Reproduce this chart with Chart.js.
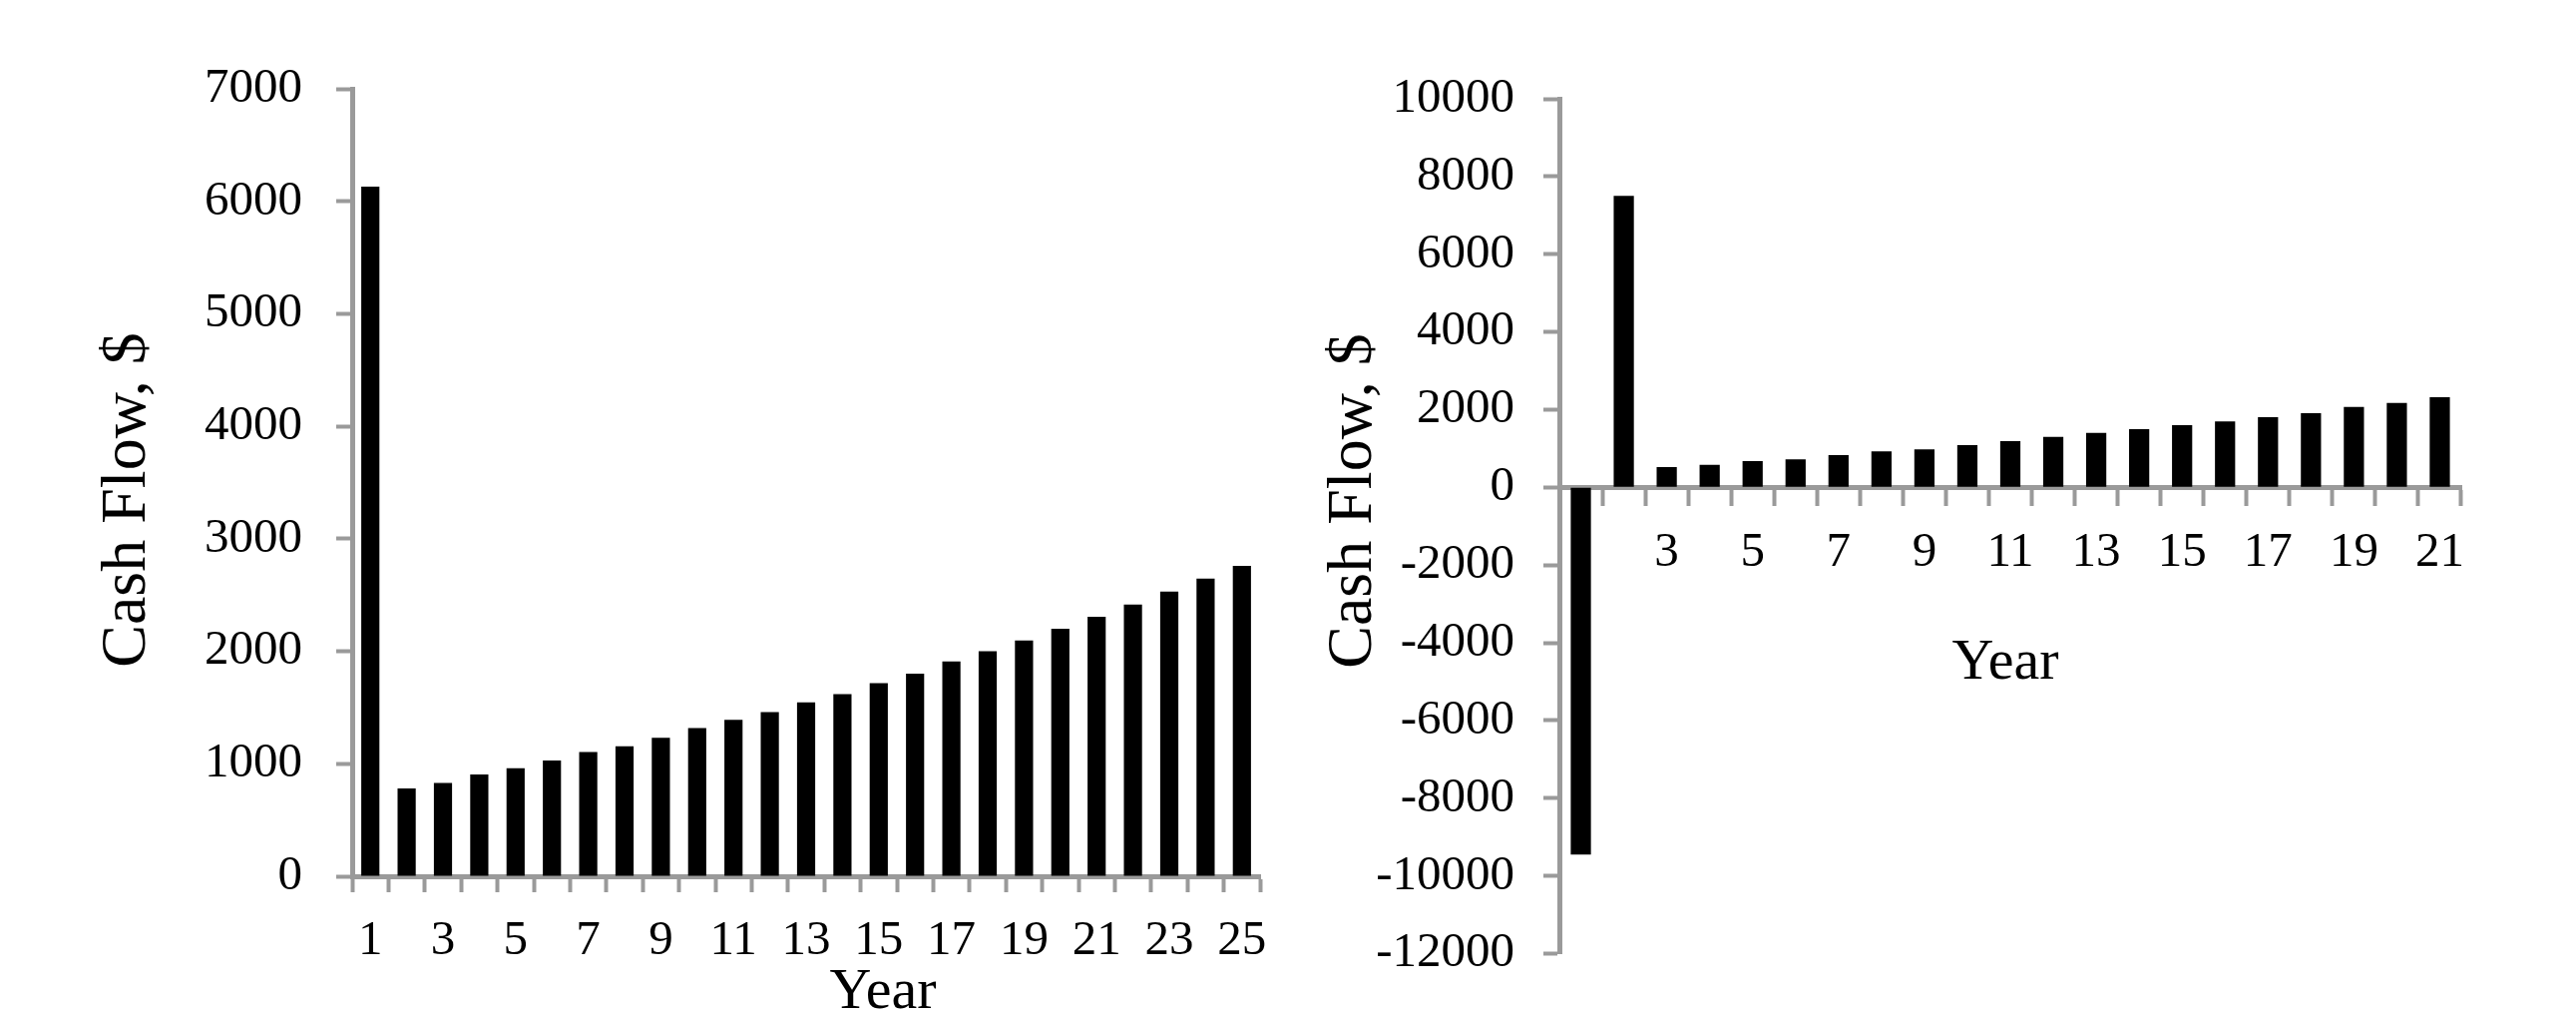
<!DOCTYPE html>
<html>
<head>
<meta charset="utf-8">
<script src="https://cdn.jsdelivr.net/npm/chart.js"></script>
<style>
    body { margin: 0; background: #fff; overflow: hidden; }
    #leftChart { position: absolute; left: 0; top: 0; }
    #rightChart { position: absolute; left: 1300px; top: 0; }
</style>
</head>
<body>
<canvas id="leftChart" width="1300" height="1014"></canvas>
<canvas id="rightChart" width="1282" height="1014"></canvas>
<script>
// left chart: 25 years
const yearsA = [1, 2, 3, 4, 5, 6, 7, 8, 9, 10, 11, 12, 13, 14, 15, 16, 17, 18, 19, 20, 21, 22, 23, 24, 25];
const cashFlowA = [6130, 780, 830, 905, 960, 1030, 1105, 1156, 1230, 1317, 1390, 1460, 1545, 1620, 1717,
    1800, 1910, 2000, 2095, 2200, 2307, 2415, 2530, 2645, 2760];

// right chart: 21 years
const yearsB = [1, 2, 3, 4, 5, 6, 7, 8, 9, 10, 11, 12, 13, 14, 15, 16, 17, 18, 19, 20, 21];
const cashFlowB = [-9450, 7500, 520, 580, 680, 720, 830, 930, 980, 1090, 1190, 1300, 1400, 1500, 1600,
    1700, 1810, 1910, 2070, 2170, 2320];

const xTitle = 'Year';
const yTitle = 'Cash Flow, $';

const axisGray = '#9a9a9a';
const serif = "'Liberation Serif', 'DejaVu Serif', serif";

Chart.defaults.font.family = serif;
Chart.defaults.color = '#000';

// axis titles drawn by hand so they can sit where Excel put them
const axisTitles = {
    id: 'axisTitles',
    afterDraw(chart, args, opts) {
        const ctx = chart.ctx;
        opts.items.forEach(t => {
            ctx.save();
            ctx.font = t.size + 'px ' + serif;
            ctx.fillStyle = '#000';
            ctx.textAlign = 'center';
            ctx.textBaseline = 'alphabetic';
            ctx.translate(t.x, t.y);
            if (t.rotate) ctx.rotate(-Math.PI / 2);
            ctx.fillText(t.text, 0, 0);
            ctx.restore();
        });
    }
};

function makeConfig(labels, values, opts) {
    return {
        type: 'bar',
        data: {
            labels: labels,
            datasets: [{
                data: values,
                backgroundColor: '#000',
                borderWidth: 0,
                barPercentage: opts.barPct,
                categoryPercentage: 1
            }]
        },
        options: {
            responsive: false,
            animation: false,
            layout: { padding: opts.padding },
            scales: {
                x: {
                    position: opts.xPosition,
                    grid: {
                        offset: true,
                        drawOnChartArea: false,
                        drawTicks: true,
                        tickLength: 16,
                        tickWidth: 4,
                        tickColor: axisGray
                    },
                    border: { color: axisGray, width: 5 },
                    ticks: {
                        autoSkip: false,
                        maxRotation: 0,
                        padding: 20,
                        font: { size: 49 },
                        callback: function (val, i) {
                            return i % 2 === 0 ? this.getLabelForValue(val) : '';
                        }
                    },
                    afterFit: s => { s.height = opts.xHeight; }
                },
                y: {
                    min: opts.yMin,
                    max: opts.yMax,
                    grid: {
                        drawOnChartArea: false,
                        tickLength: 16,
                        tickWidth: 4,
                        tickColor: axisGray
                    },
                    border: { color: axisGray, width: 5 },
                    ticks: {
                        stepSize: opts.yStep,
                        padding: opts.yPad,
                        font: { size: 49 },
                        callback: v => String(v)
                    },
                    afterFit: s => { s.width = opts.yWidth; }
                }
            },
            plugins: {
                legend: { display: false },
                tooltip: { enabled: false },
                axisTitles: { items: opts.titles }
            }
        },
        plugins: [axisTitles]
    };
}

new Chart(document.getElementById('leftChart'), makeConfig(yearsA, cashFlowA, {
    barPct: 0.5,
    padding: { top: 89, right: 37, bottom: 0, left: 0 },
    xPosition: 'bottom',
    xHeight: 136,
    yWidth: 353,
    yMin: 0, yMax: 7000, yStep: 1000, yPad: 34,
    titles: [
        { text: yTitle, x: 145, y: 501, size: 64, rotate: true },
        { text: xTitle, x: 885, y: 1010, size: 58 }
    ]
}));

new Chart(document.getElementById('rightChart'), makeConfig(yearsB, cashFlowB, {
    barPct: 0.47,
    padding: { top: 99, right: 115, bottom: 51, left: 0 },
    xPosition: { y: 0 },
    xHeight: 0,
    yWidth: 263,
    yMin: -12000, yMax: 10000, yStep: 2000, yPad: 29,
    titles: [
        { text: yTitle, x: 74, y: 502, size: 64, rotate: true },
        { text: xTitle, x: 710, y: 680, size: 58 }
    ]
}));
</script>
</body>
</html>
